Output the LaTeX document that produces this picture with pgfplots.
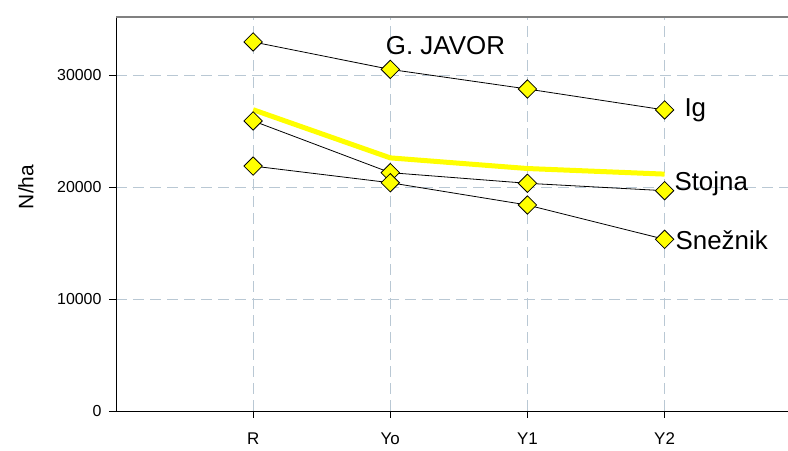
\documentclass[border=0pt]{standalone}
\usepackage{fontspec}
\setmainfont{Liberation Sans}
\usepackage{pgfplots}
\pgfplotsset{compat=1.18}
\definecolor{gridc}{RGB}{185,200,212}
\definecolor{topc}{RGB}{128,128,128}
\definecolor{ylw}{RGB}{255,255,0}
\begin{document}
\begin{tikzpicture}[x=1bp,y=1bp]
\useasboundingbox (-116,-40) rectangle (672,411);
\begin{axis}[
  name=ax, at={(0,0)}, anchor=south west,
  scale only axis, width=672bp, height=394bp,
  xmin=-1, xmax=3.9, ymin=0, ymax=35180,
  axis lines=left, axis line style={-, black, line width=0.8bp},
  xtick={0,1,2,3}, xticklabels={R,Yo,Y1,Y2},
  ytick={0,10000,20000,30000},
  scaled y ticks=false,
  /pgf/number format/assume math mode=true,
  /pgf/number format/set thousands separator={},
  tick align=outside, major tick length=7bp,
  tick style={black, line width=0.8bp},
  grid=major,
  major grid style={gridc, dash pattern=on 11bp off 6bp, line width=0.8bp},
  yticklabel style={font=\fontsize{16}{19}\selectfont, xshift=-4bp},
  xticklabel style={font=\fontsize{17}{20}\selectfont, yshift=-11bp},
]
\addplot[ylw, line width=5bp, no marks] coordinates {(0,26900) (1,22600) (2,21650) (3,21150)};
\addplot[black, line width=0.8bp, mark=square*, mark size=6.5bp,
  mark options={rotate=45, fill=ylw, draw=black, line width=0.8bp}]
  coordinates {(0,32950) (1,30500) (2,28750) (3,26880)};
\addplot[black, line width=0.8bp, mark=square*, mark size=6.5bp,
  mark options={rotate=45, fill=ylw, draw=black, line width=0.8bp}]
  coordinates {(0,25900) (1,21280) (2,20330) (3,19670)};
\addplot[black, line width=0.8bp, mark=square*, mark size=6.5bp,
  mark options={rotate=45, fill=ylw, draw=black, line width=0.8bp}]
  coordinates {(0,21870) (1,20380) (2,18390) (3,15330)};
\node[anchor=base west, inner sep=0, font=\fontsize{26}{30}\selectfont] at (axis cs:0.967,31875) {G. JAVOR};
\node[anchor=base west, inner sep=0, font=\fontsize{26}{30}\selectfont] at (axis cs:3.144,26280) {Ig};
\node[anchor=base west, inner sep=0, font=\fontsize{26}{30}\selectfont] at (axis cs:3.071,19730) {Stojna};
\node[anchor=base west, inner sep=0, font=\fontsize{26}{30}\selectfont] at (axis cs:3.079,14460) {Snežnik};
\end{axis}
\draw[topc, line width=2bp] (ax.north west) -- (ax.north east);
\node[rotate=90, font=\fontsize{21}{24}\selectfont] at (-90,224) {N/ha};
\end{tikzpicture}
\end{document}
